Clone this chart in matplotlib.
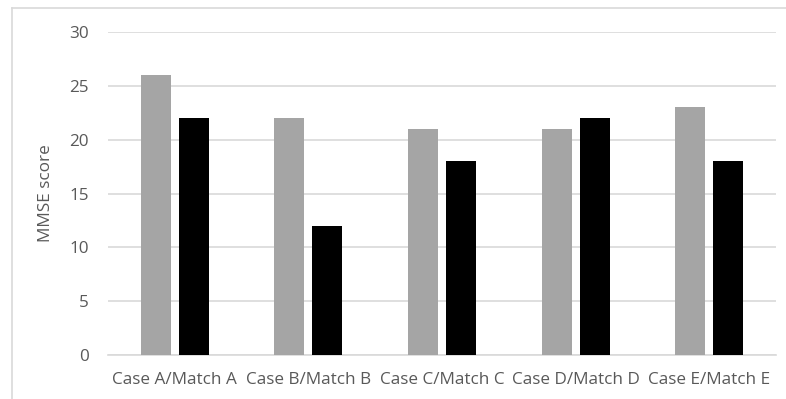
import numpy as np
import matplotlib.pyplot as plt
from matplotlib.lines import Line2D

categories = ["Case A/Match A", "Case B/Match B", "Case C/Match C",
              "Case D/Match D", "Case E/Match E"]
case_scores = [26, 22, 21, 21, 23]
match_scores = [22, 12, 18, 22, 18]

plt.rcParams['font.family'] = ['Open Sans', 'DejaVu Sans']

fig = plt.figure(figsize=(7.86, 3.99), dpi=100)
ax = fig.add_axes([108/786, 1 - 355/399, 668/786, 323/399])

x = np.arange(len(categories))
w = 0.225
ax.bar(x - 0.142, case_scores, w, color='#a5a5a5', zorder=3)
ax.bar(x + 0.142, match_scores, w, color='#000000', zorder=3)

ax.set_xlim(-0.5, len(categories) - 0.5)
ax.set_ylim(0, 30)
ax.set_yticks(range(0, 31, 5))
ax.set_xticks(x)
ax.set_xticklabels(categories)
ax.yaxis.grid(True, color='#d9d9d9', linewidth=1.2, zorder=0)
ax.set_axisbelow(True)
for s in ['top', 'right', 'left']:
    ax.spines[s].set_visible(False)
ax.spines['bottom'].set_color('#d9d9d9')
ax.spines['bottom'].set_linewidth(1.2)
ax.tick_params(axis='both', length=0, labelsize=12.3, colors='#595959')
ax.tick_params(axis='y', pad=14)
ax.tick_params(axis='x', pad=12)
ax.set_ylabel("MMSE score", fontsize=12.3, color='#595959', labelpad=11)

# outer chart frame (cropped at right and bottom)
fig.add_artist(Line2D([12/786, 12/786], [0, 1 - 8/399], color='#d9d9d9',
                      linewidth=1.2, transform=fig.transFigure))
fig.add_artist(Line2D([12/786, 1], [1 - 8/399, 1 - 8/399], color='#d9d9d9',
                      linewidth=1.2, transform=fig.transFigure))

fig.savefig("out.png", dpi=100)
